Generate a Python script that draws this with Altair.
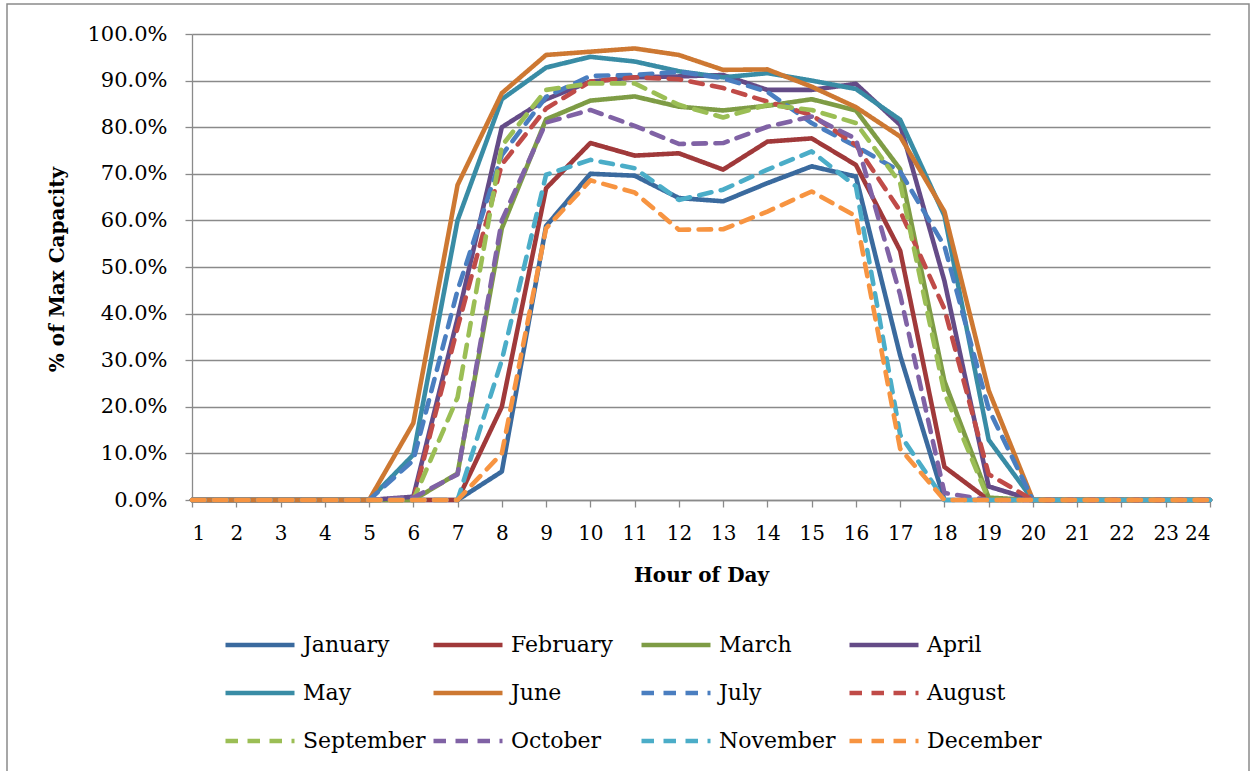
import altair as alt
import pandas as pd

hours = list(range(1, 25))
months = ["January", "February", "March", "April", "May", "June",
          "July", "August", "September", "October", "November", "December"]

# % of max capacity, hour 1 .. 24
january   = [0, 0, 0, 0, 0, 0, 0, 6.1, 58.8, 70.0, 69.6, 64.8, 64.1, 68.0, 71.6, 69.4, 31.0, 0, 0, 0, 0, 0, 0, 0]
february  = [0, 0, 0, 0, 0, 0, 0, 20.0, 66.9, 76.6, 73.9, 74.4, 70.9, 76.9, 77.6, 71.9, 53.5, 7.1, 0, 0, 0, 0, 0, 0]
march     = [0, 0, 0, 0, 0, 0, 5.7, 58.3, 81.7, 85.7, 86.6, 84.4, 83.6, 84.6, 86.0, 83.6, 71.0, 25.5, 0.5, 0, 0, 0, 0, 0]
april     = [0, 0, 0, 0, 0, 0.7, 39.0, 80.0, 86.0, 89.8, 90.7, 90.9, 91.2, 88.0, 88.0, 89.3, 80.5, 47.0, 2.9, 0, 0, 0, 0, 0]
may       = [0, 0, 0, 0, 0, 9.7, 60.0, 86.0, 92.8, 95.1, 94.1, 92.0, 90.7, 91.6, 90.0, 88.2, 81.6, 61.0, 12.9, 0, 0, 0, 0, 0]
june      = [0, 0, 0, 0, 0, 16.5, 67.6, 87.3, 95.5, 96.2, 96.9, 95.5, 92.3, 92.4, 88.7, 84.3, 78.0, 61.9, 23.5, 0, 0, 0, 0, 0]
july      = [0, 0, 0, 0, 0, 8.5, 45.0, 74.0, 86.5, 91.0, 91.2, 91.9, 90.5, 87.6, 80.9, 75.9, 70.5, 54.5, 19.5, 0, 0, 0, 0, 0]
august    = [0, 0, 0, 0, 0, 0, 37.0, 72.0, 84.0, 89.8, 90.7, 90.3, 88.4, 85.5, 82.6, 76.2, 62.0, 41.0, 5.5, 0, 0, 0, 0, 0]
september = [0, 0, 0, 0, 0, 0, 22.0, 76.0, 88.0, 89.4, 89.4, 84.8, 82.1, 84.8, 83.7, 80.9, 68.0, 23.0, 0, 0, 0, 0, 0, 0]
october   = [0, 0, 0, 0, 0, 0.5, 5.5, 60.0, 81.0, 83.7, 80.3, 76.4, 76.6, 80.1, 82.3, 77.5, 44.0, 1.5, 0, 0, 0, 0, 0, 0]
november  = [0, 0, 0, 0, 0, 0, 0, 30.0, 69.8, 73.0, 71.2, 64.4, 66.6, 70.9, 74.8, 67.3, 14.0, 0, 0, 0, 0, 0, 0, 0]
december  = [0, 0, 0, 0, 0, 0, 0, 10.0, 58.3, 68.6, 66.0, 58.0, 58.1, 61.9, 66.2, 60.9, 11.0, 0, 0, 0, 0, 0, 0, 0]

series = [january, february, march, april, may, june,
          july, august, september, october, november, december]

colors = ["#3A6A9E", "#A0393A", "#7E9C45", "#644B87", "#398CA5", "#CD7832",
          "#4A7EC0", "#C04B48", "#9BBE55", "#8062A5", "#4BADC8", "#F79441"]
dashes = [[1, 0]] * 6 + [[12.5, 9.5]] * 6

y_ticks = [i / 10 for i in range(11)]

rows = []
for m, vals in zip(months, series):
    for h, v in zip(hours, vals):
        rows.append({"Hour": h, "Month": m, "Value": v / 100.0})
df = pd.DataFrame(rows)

GRAY = "#8A8A8A"

legend = alt.Legend(title=None, orient="none", legendX=31, legendY=574, columns=4,
                    direction="horizontal")

lines = alt.Chart(df).mark_line(strokeWidth=4.6, strokeJoin="round", strokeCap="round").encode(
    x=alt.X("Hour:Q",
            scale=alt.Scale(domain=[1, 24], nice=False, zero=False),
            axis=alt.Axis(values=hours, format="d", title="Hour of Day", grid=False,
                          labelFontSize=20, labelPadding=16, titleY=75, titleBaseline="middle")),
    y=alt.Y("Value:Q",
            scale=alt.Scale(domain=[0, 1], nice=False),
            axis=alt.Axis(values=y_ticks, format=".1%", title="% of Max Capacity", grid=True,
                          labelPadding=18, titleX=-135, titleY=235, titleAngle=-90,
                          titleAlign="center", titleBaseline="middle")),
    color=alt.Color("Month:N", scale=alt.Scale(domain=months, range=colors), legend=legend),
    strokeDash=alt.StrokeDash("Month:N", scale=alt.Scale(domain=months, range=dashes), legend=legend),
)

border = alt.Chart(pd.DataFrame({"a": [0]})).mark_rect(
    filled=False, stroke=GRAY, strokeWidth=1.5
).encode(
    x=alt.value(-185), x2=alt.value(1057), y=alt.value(-30), y2=alt.value(800)
)

chart = alt.layer(border, lines).properties(
    width=1018, height=466,
    padding={"left": 192, "top": 34, "right": 44, "bottom": 271},
    autosize=alt.AutoSizeParams(type="none"),
    background="white",
).configure_view(stroke=None).configure_axis(
    domainColor=GRAY, domainWidth=1.3, tickColor=GRAY, tickWidth=1.3, tickSize=7,
    gridColor=GRAY, gridWidth=1.3,
    labelFont="DejaVu Serif", labelFontSize=21, labelColor="black",
    titleFont="DejaVu Serif", titleFontSize=20, titleFontWeight="bold", titleColor="black",
).configure_legend(
    symbolType="stroke", symbolSize=4761, symbolStrokeWidth=4.5,
    labelFont="DejaVu Serif", labelFontSize=22, labelColor="black", labelOffset=6,
    columnPadding=-2, rowPadding=0, gridAlign="all", padding=0, labelLimit=300,
)

chart.save("out.html", embed_options={"renderer": "svg", "actions": False})
